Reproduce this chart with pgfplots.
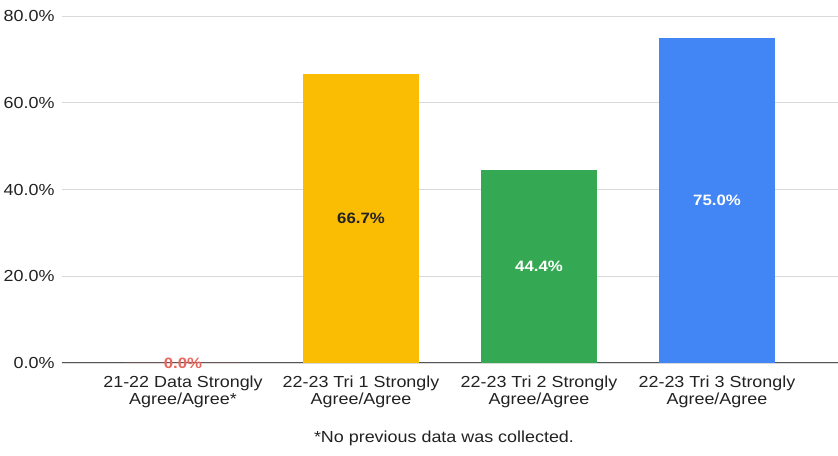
\documentclass[border=0pt]{standalone}
\usepackage{pgfplots}
\pgfplotsset{compat=1.18}
\usepackage{fontspec}
\setmainfont{Liberation Sans}[FakeStretch=1.12]
\definecolor{gyellow}{HTML}{FBBC04}
\definecolor{ggreen}{HTML}{34A853}
\definecolor{gblue}{HTML}{4285F4}
\definecolor{gred}{HTML}{E8665E}
\definecolor{gridc}{HTML}{D9D9D9}
\definecolor{txt}{HTML}{222222}
\definecolor{axc}{HTML}{555555}
\tikzset{valstyle/.style={anchor=center, font=\fontsize{15}{17}\selectfont\bfseries}}
\begin{document}
\begin{tikzpicture}[font=\fontsize{16}{17}\selectfont, text=txt]
\begin{axis}[
  name=ax,
  scale only axis, width=776pt, height=347pt,
  xmin=-0.68, xmax=3.68, ymin=0, ymax=80,
  axis x line*=bottom, axis y line*=left,
  x axis line style={draw=axc, line width=1pt, -},
  y axis line style={draw=none},
  tick style={draw=none},
  ymajorgrids, grid style={gridc, line width=0.8pt},
  ytick={0,20,40,60,80},
  yticklabels={0.0\%,20.0\%,40.0\%,60.0\%,80.0\%},
  yticklabel style={xshift=-4pt, text=txt},
  xtick={0,1,2,3},
  xticklabels={{21-22 Data Strongly\\Agree/Agree*},{22-23 Tri 1 Strongly\\Agree/Agree},{22-23 Tri 2 Strongly\\Agree/Agree},{22-23 Tri 3 Strongly\\Agree/Agree}},
  xticklabel style={align=center, yshift=-9pt, text=txt},
  clip=false,
]
\addplot[ybar, bar shift=0pt, bar width=116pt, fill=gred, draw=none] coordinates {(0,0)};
\addplot[ybar, bar shift=0pt, bar width=116pt, fill=gyellow, draw=none] coordinates {(1,66.7)};
\addplot[ybar, bar shift=0pt, bar width=116pt, fill=ggreen, draw=none] coordinates {(2,44.4)};
\addplot[ybar, bar shift=0pt, bar width=116pt, fill=gblue, draw=none] coordinates {(3,75.0)};
\addplot[draw=none, mark=none, nodes near coords, point meta=explicit symbolic,
  every node near coord/.style={valstyle, text=gred}] coordinates {(0,0)[0.0\%]};
\addplot[draw=none, mark=none, nodes near coords, point meta=explicit symbolic,
  every node near coord/.style={valstyle, text=txt}] coordinates {(1,33.35)[66.7\%]};
\addplot[draw=none, mark=none, nodes near coords, point meta=explicit symbolic,
  every node near coord/.style={valstyle, text=white}] coordinates {(2,22.2)[44.4\%] (3,37.5)[75.0\%]};
\node[text=txt] at ([xshift=-6pt,yshift=-75pt]rel axis cs:0.5,0) {*No previous data was collected.};
\end{axis}
\pgfresetboundingbox
\path ([xshift=-62pt,yshift=-93pt]ax.south west) rectangle ([yshift=16pt]ax.north east);
\end{tikzpicture}
\end{document}
